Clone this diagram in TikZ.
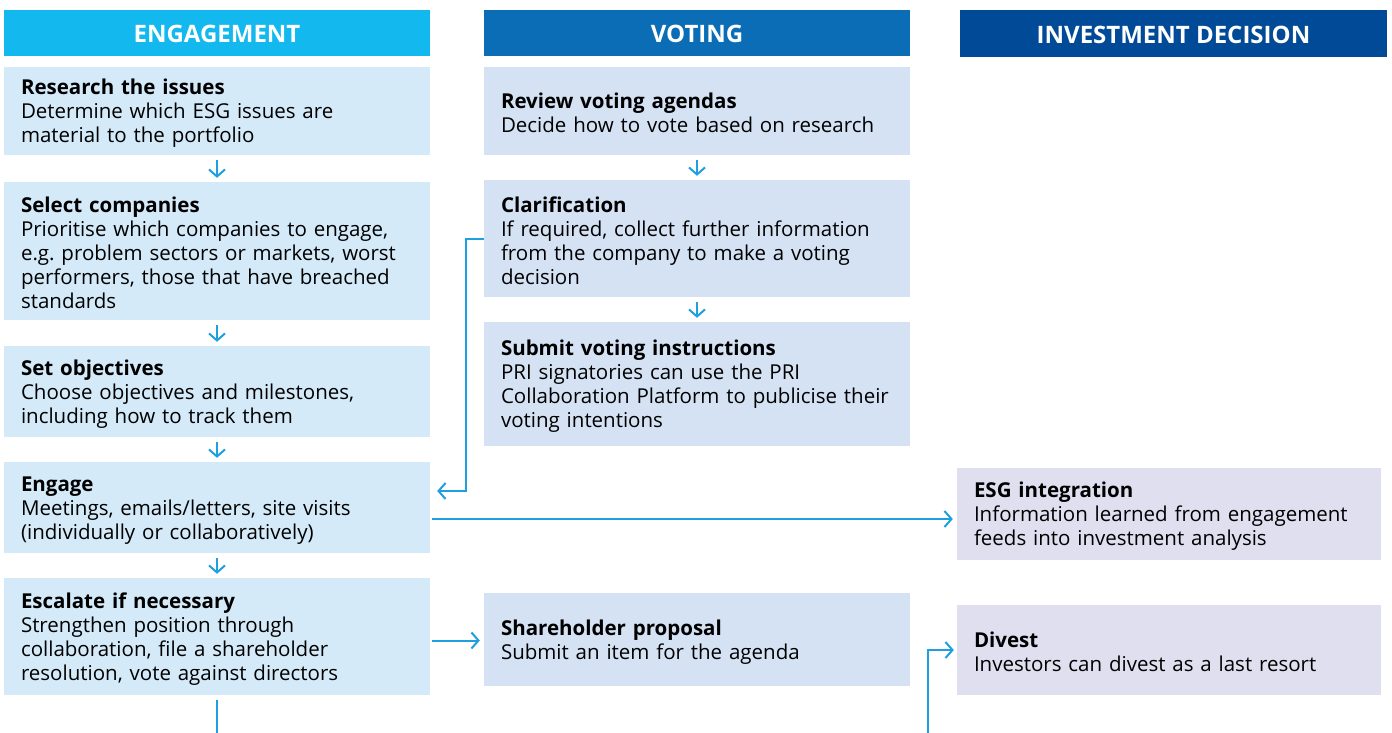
\documentclass[tikz,border=0pt]{standalone}
\usepackage{fontspec}
\setmainfont{Open Sans}
\usepackage{tikz}
\usetikzlibrary{arrows.meta,positioning}
\definecolor{enghead}{HTML}{13B9EE}
\definecolor{votehead}{HTML}{0C6DB7}
\definecolor{invhead}{HTML}{004A98}
\definecolor{engfill}{HTML}{D4EAF9}
\definecolor{votefill}{HTML}{D4E2F4}
\definecolor{invfill}{HTML}{DFDFF0}
\definecolor{flowcol}{HTML}{1E9FE0}

\begin{document}
\begin{tikzpicture}[x=1pt,y=-1pt,
  head/.style={rectangle,minimum width=426pt,minimum height=46pt,inner sep=0pt,
    text height=20pt,text depth=0pt,text=white,font=\fontsize{24}{28}\selectfont\bfseries},
  card/.style={rectangle,minimum width=426pt,inner xsep=17pt,inner ysep=0pt,
    text width=392pt,align=left,font=\fontsize{20.5}{24}\selectfont,
    execute at begin node=\rule{0pt}{20pt}},
  engbox/.style={card,fill=engfill}, votebox/.style={card,fill=votefill},
  invbox/.style={card,fill=invfill,minimum width=424pt,text width=390pt},
  flow/.style={draw=flowcol,line width=2pt,-{Straight Barb[length=7pt,width=16pt,line width=2pt]}},
  link/.style={draw=flowcol,line width=2pt}]
\useasboundingbox (0,0) rectangle (1392,733);

% column heads
\node[head,fill=enghead] (hEng) at (217,33) {ENGAGEMENT};
\node[head,fill=votehead] (hVote) at (697,33) {VOTING};
\node[head,fill=invhead,minimum width=427pt,minimum height=47pt] (hInv) at (1173.5,33.5) {INVESTMENT DECISION};

% engagement
\node[engbox,minimum height=88pt] (research) at (217,111) {\textbf{Research the issues}\\Determine which ESG issues are\\material to the portfolio};
\node[engbox,minimum height=138pt] (select) at (217,251) {\textbf{Select companies}\\Prioritise which companies to engage,\\e.g.\ problem sectors or markets, worst\\performers, those that have breached\\standards};
\node[engbox,minimum height=91pt] (objectives) at (217,391.5) {\textbf{Set objectives}\\Choose objectives and milestones,\\including how to track them};
\node[engbox,minimum height=91pt] (engage) at (217,507.5) {\textbf{Engage}\\Meetings, emails/letters, site visits\\(individually or collaboratively)};
\node[engbox,minimum height=117pt] (escalate) at (217,636.5) {\textbf{Escalate if necessary}\\Strengthen position through\\collaboration, file a shareholder\\resolution, vote against directors};

% voting
\node[votebox,minimum height=88pt] (review) at (697,111) {\textbf{Review voting agendas}\\Decide how to vote based on research};
\node[votebox,minimum height=117pt] (clarify) at (697,238.5) {\textbf{Clarification}\\If required, collect further information\\from the company to make a voting\\decision};
\node[votebox,minimum height=124pt] (submit) at (697,384) {\textbf{Submit voting instructions}\\PRI signatories can use the PRI\\Collaboration Platform to publicise their\\voting intentions};
\node[votebox,minimum height=93pt] (proposal) at (697,639.5) {\textbf{Shareholder proposal}\\Submit an item for the agenda};

% investment decision
\node[invbox,minimum height=92pt] (integrate) at (1169,514) {\textbf{ESG integration}\\Information learned from engagement\\feeds into investment analysis};
\node[invbox,minimum height=90pt] (divest) at (1169,650) {\textbf{Divest}\\Investors can divest as a last resort};

% steps down each column
\foreach \a/\b in {research/select,select/objectives,objectives/engage,engage/escalate,review/clarify,clarify/submit}
  \draw[flow] ([yshift=-5pt]\a.south) -- ([yshift=4pt]\b.north);

% links across columns
\draw[flow] (clarify.west) -- ++(-18,0) |- ([xshift=7pt,yshift=16.5pt]engage.east);
\draw[flow] ([xshift=2pt,yshift=-11.5pt]engage.east) coordinate (e1) -- ([xshift=-4pt]integrate.west |- e1);
\draw[flow] ([xshift=2pt,yshift=-4pt]escalate.east) coordinate (e2) -- ([xshift=-4pt]proposal.west |- e2);
\coordinate (divin) at (928,733);
\draw[flow] (divin) |- ([xshift=-3pt]divest.west);
\coordinate (escout) at (217,733);
\draw[link] ([yshift=-5pt]escalate.south) -- (escout);
\end{tikzpicture}
\end{document}
